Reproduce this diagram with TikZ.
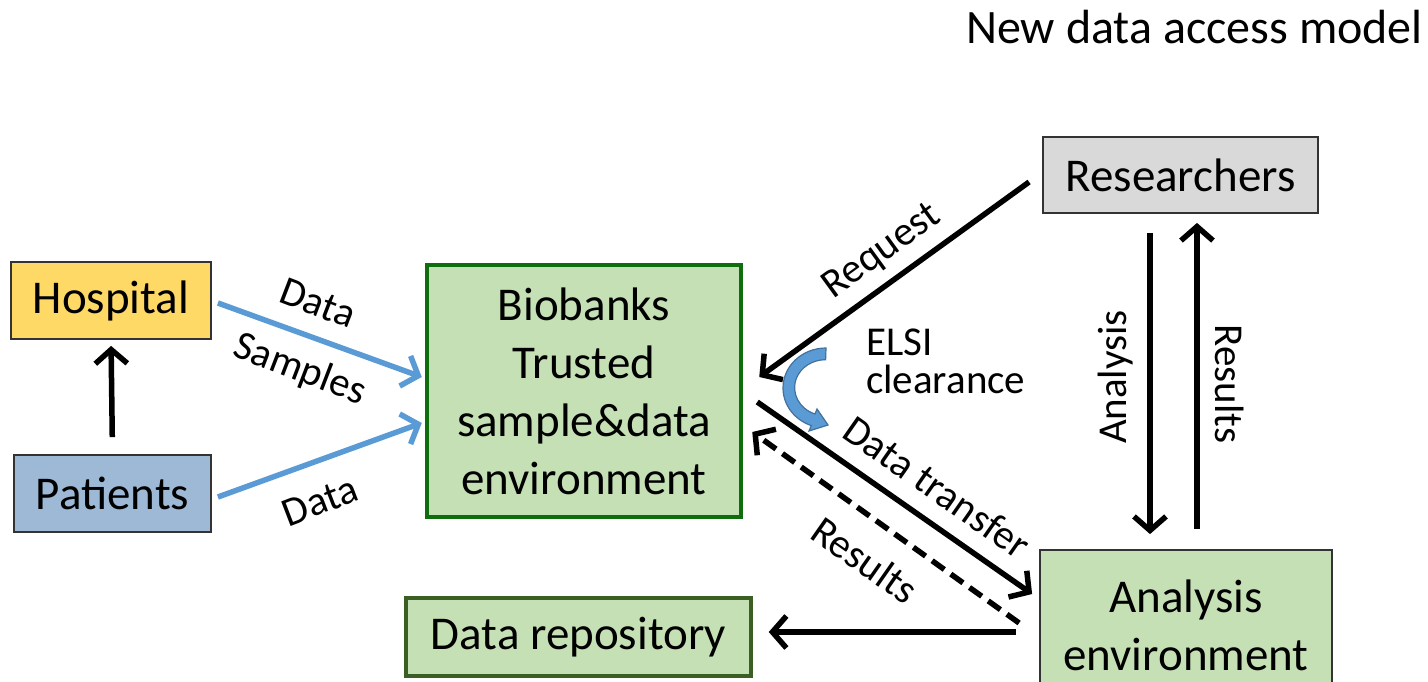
\documentclass[tikz,border=0pt]{standalone}
\usepackage{fontspec}
\setmainfont{Carlito}
\usetikzlibrary{arrows.meta}
\definecolor{hospfill}{HTML}{FFD966}
\definecolor{patfill}{HTML}{9DB9D5}
\definecolor{greenfill}{HTML}{C5E0B4}
\definecolor{biobord}{HTML}{0E6E0E}
\definecolor{repobord}{HTML}{3B5E24}
\definecolor{resfill}{HTML}{D9D9D9}
\definecolor{boxedge}{HTML}{333333}
\definecolor{arrblue}{HTML}{5B9BD5}
\definecolor{arrblueedge}{HTML}{41719C}
\begin{document}
\begin{tikzpicture}[x=1pt,y=-1pt,
  box/.style={draw=boxedge, line width=1.8pt, inner sep=0pt, align=center, font=\fontsize{47}{58}\selectfont},
  lbl/.style={inner sep=0pt, font=\fontsize{41}{38}\selectfont},
  arr/.style={line width=5.5pt, -{Straight Barb[length=14pt,width=32pt]}},
  barr/.style={arr, draw=arrblue},
]
\useasboundingbox (0,0) rectangle (1428,682);
\fill[white] (0,0) rectangle (1428,682);

% nodes
\node[box, fill=hospfill, minimum width=200pt, minimum height=77pt] (hosp) at (111,300.5) {Hospital};
\node[box, fill=patfill, minimum width=197pt, minimum height=77pt] (pat) at (112.5,493.5) {Patients};
\node[box, fill=greenfill, draw=biobord, line width=4.5pt, minimum width=314pt, minimum height=252pt] (bio) at (584,391) {Biobanks\\Trusted\\sample\&data\\environment};
\node[box, fill=greenfill, draw=repobord, line width=3.5pt, minimum width=345pt, minimum height=78pt] (repo) at (578.5,637) {Data repository};
\node[box, fill=resfill, minimum width=275pt, minimum height=76pt] (res) at (1180.5,175) {Researchers};
\node[box, fill=greenfill, minimum width=292pt, minimum height=150pt] (ana) at (1186,625) {Analysis\\environment};

\node[font=\fontsize{48}{58}\selectfont, anchor=base east, inner sep=0pt] (title) at (1423,44) {New data access model};

% connectors
\draw[arr, shorten <=17pt, shorten >=6pt] (pat.north) -- (hosp.south);
\draw[barr] ([xshift=6pt,yshift=-2.5pt]hosp.east) -- ([xshift=-3pt,yshift=14pt]bio.west);
\draw[barr] ([xshift=6pt,yshift=-3.5pt]pat.east) -- ([xshift=-3pt,yshift=-32pt]bio.west);
\draw[arr] ([xshift=-13pt,yshift=-7pt]res.west) -- ([xshift=16pt,yshift=14pt]bio.east);
\draw[arr] ([xshift=14pt,yshift=-11pt]bio.east) -- ([xshift=-7pt,yshift=31pt]ana.west);
\draw[arr, dash pattern=on 15pt off 8pt] ([xshift=-20pt,yshift=2pt]ana.west) -- ([xshift=9pt,yshift=-41pt]bio.east);
\draw[arr] ([xshift=-23pt,yshift=-7pt]ana.west) -- ([xshift=16pt,yshift=5pt]repo.east);
\draw[arr] ([xshift=-30.5pt,yshift=-19pt]res.south) -- ([xshift=-36pt,yshift=15pt]ana.north);
\draw[arr] ([xshift=11pt,yshift=20pt]ana.north) -- ([xshift=16.5pt,yshift=-9pt]res.south);

% ELSI curved arrow
\filldraw[fill=arrblue, draw=arrblueedge, line width=1.2pt]
  (826,348) arc[start angle=-90, end angle=-250, x radius=43, y radius=40]
  -- (809,431) -- (828,425) -- (817,409) -- (815,414)
  arc[start angle=-250, end angle=-90, x radius=31, y radius=28] -- cycle;

% labels
\node[lbl, rotate=-21] (l1) at (318,303) {Data};
\node[lbl, rotate=-21] (l2) at (300,370) {Samples};
\node[lbl, rotate=21] (l3) at (320,501) {Data};
\node[lbl, rotate=36] (l4) at (882,252) {Request};
\node[lbl, anchor=base west, align=left] (l5) at (866,393) {ELSI\\clearance};
\node[lbl, rotate=-35] (l6) at (937,487) {Data transfer};
\node[lbl, rotate=-35] (l7) at (865,560) {Results};
\node[lbl, rotate=90] (l8) at (1116,377) {Analysis};
\node[lbl, rotate=-90] (l9) at (1230,384) {Results};
\end{tikzpicture}
\end{document}
